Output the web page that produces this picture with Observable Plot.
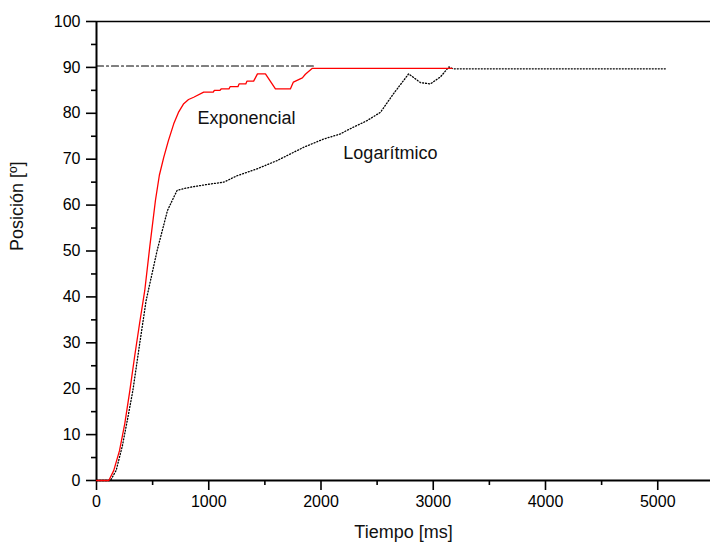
<!DOCTYPE html>
<html>
<head>
<meta charset="utf-8">
<script src="https://cdn.jsdelivr.net/npm/d3@7"></script>
<script src="https://cdn.jsdelivr.net/npm/@observablehq/plot@0.6"></script>
<style>
  html, body { margin: 0; padding: 0; background: #fff; }
</style>
</head>
<body>
<div id="chart"></div>
<script>
// Exponencial (red)
const expT = [0, 110, 154, 205, 252, 297, 339, 383, 430, 475, 525, 560, 599, 640, 688, 730, 777, 820, 866, 955, 1040, 1050, 1100, 1110, 1180, 1190, 1260, 1270, 1330, 1340, 1400, 1434, 1505, 1594, 1727, 1754, 1834, 1861, 1923, 3167];
const expY = [0, 0, 2.2, 6.5, 12.4, 19.6, 26.9, 34.1, 41.4, 51.0, 61.0, 66.5, 70.4, 74.0, 77.7, 80.2, 82.1, 83.0, 83.5, 84.6, 84.6, 85.0, 85.0, 85.3, 85.3, 85.8, 85.8, 86.4, 86.4, 87.0, 87.0, 88.6, 88.6, 85.3, 85.3, 86.8, 87.7, 88.5, 89.8, 89.8];
// Logarítmico (black dotted)
const logT = [0, 125, 175, 230, 280, 324, 380, 442, 540, 632, 688, 718, 780, 837, 986, 1134, 1253, 1431, 1609, 1846, 2024, 2173, 2232, 2410, 2529, 2647, 2781, 2885, 2974, 3063, 3140, 3175, 5082];
const logY = [0, 0, 2.2, 7.5, 13.8, 19.6, 29.0, 39.2, 50.1, 58.8, 61.7, 63.2, 63.6, 63.9, 64.5, 65.0, 66.4, 67.9, 69.7, 72.6, 74.4, 75.5, 76.3, 78.4, 80.2, 84.3, 88.6, 86.7, 86.4, 87.9, 90.1, 89.7, 89.7];
// Referencia (dash-dot)
const refT = [0, 1932];
const refY = [90.3, 90.3];

const xTicks = [0, 1000, 2000, 3000, 4000, 5000];
const xMinor = [500, 1500, 2500, 3500, 4500, 5500];
const yTicks = [0, 10, 20, 30, 40, 50, 60, 70, 80, 90, 100];
const yMinor = [5, 15, 25, 35, 45, 55, 65, 75, 85, 95];

const labels = [
  {t: 1336, v: 78.9, name: "Exponencial"},
  {t: 2618, v: 71.2, name: "Logarítmico"}
];

const expData = expT.map((t, i) => ({t, v: expY[i]}));
const logData = logT.map((t, i) => ({t, v: logY[i]}));
const refData = refT.map((t, i) => ({t, v: refY[i]}));

const chart = Plot.plot({
  width: 710,
  height: 548,
  marginLeft: 96,
  marginRight: 0,
  marginTop: 21,
  marginBottom: 68,
  style: {fontFamily: "'Liberation Sans', Arial, sans-serif", fontSize: "16px", background: "#fff", color: "#000"},
  x: {domain: [0, 5470]},
  y: {domain: [0, 100]},
  marks: [
    Plot.axisX({ticks: xTicks, tickSize: 10, tickPadding: 5, fontSize: 16, strokeWidth: 1.6, label: null, tickFormat: d => String(d)}),
    Plot.axisX({ticks: xMinor, tickSize: 5, strokeWidth: 1.6, label: null, tickFormat: () => ""}),
    Plot.axisY({ticks: yTicks, tickSize: 10, tickPadding: 6, fontSize: 16, strokeWidth: 1.6, label: null, tickFormat: d => String(d)}),
    Plot.axisY({ticks: yMinor, tickSize: 5, strokeWidth: 1.6, label: null, tickFormat: () => ""}),
    Plot.ruleY([100], {stroke: "#000", strokeWidth: 1.5}),
    Plot.ruleX([0], {stroke: "#000", strokeWidth: 2}),
    Plot.ruleY([0], {stroke: "#000", strokeWidth: 2}),
    Plot.line(refData, {x: "t", y: "v", stroke: "#000", strokeWidth: 1.2, strokeDasharray: "7,3,2,3"}),
    Plot.line(logData, {x: "t", y: "v", stroke: "#000", strokeWidth: 1.3, strokeDasharray: "1,2"}),
    Plot.line(expData, {x: "t", y: "v", stroke: "#ff0000", strokeWidth: 1.3}),
    Plot.text(labels, {x: "t", y: "v", text: "name", fontSize: 18, fill: "#111"}),
    Plot.text(["Tiempo [ms]"], {frameAnchor: "bottom", dy: 57, fontSize: 18, fill: "#111"}),
    Plot.text(["Posición [º]"], {frameAnchor: "left", dx: -79, rotate: -90, fontSize: 18, fill: "#111"})
  ]
});
document.getElementById("chart").appendChild(chart);
</script>
</body>
</html>
